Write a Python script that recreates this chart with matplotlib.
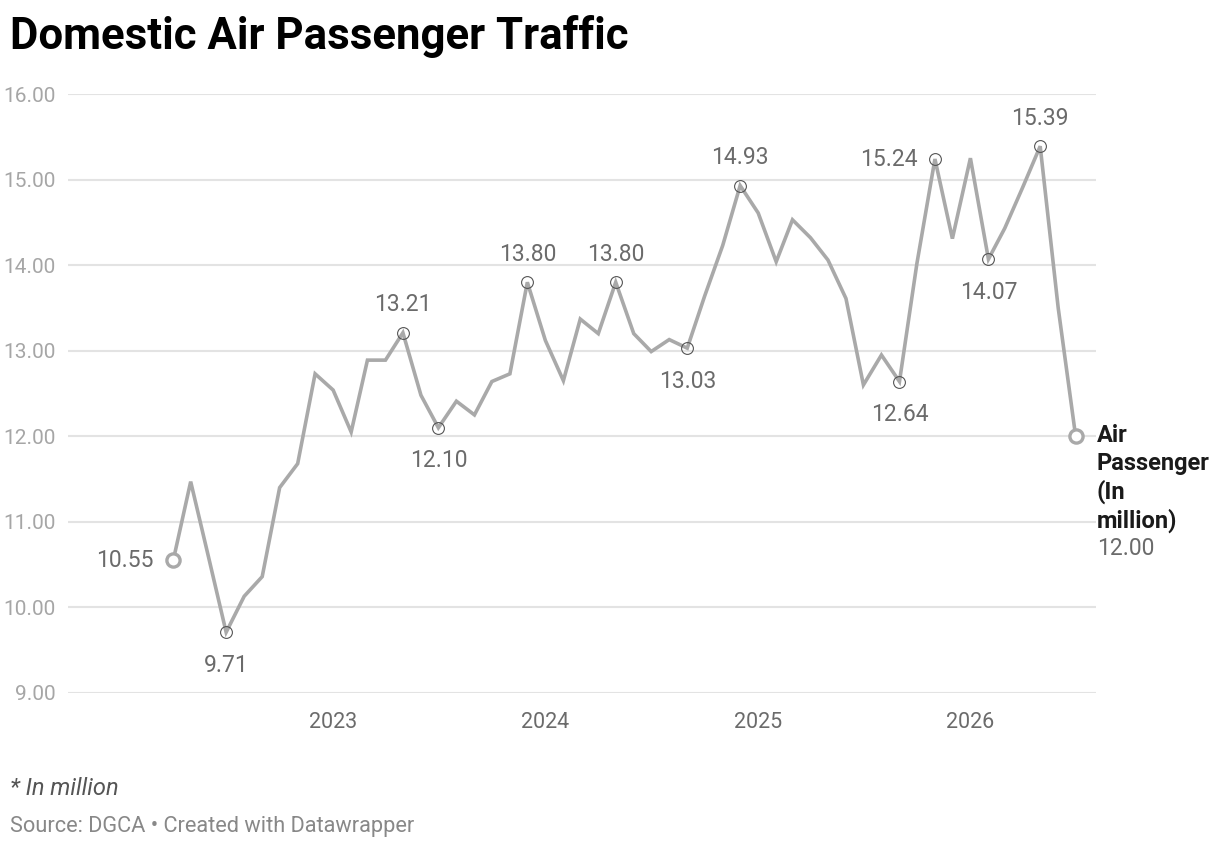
import matplotlib
matplotlib.use("Agg")
import matplotlib.pyplot as plt
import pandas as pd

plt.rcParams['font.family'] = ['Roboto', 'DejaVu Sans']

# monthly domestic air passengers (million), Apr 2022 onwards
months = pd.date_range('2022-04-01', periods=52, freq='MS')
passengers = [
    10.55, 11.47, 10.58, 9.71, 10.13, 10.36, 11.40, 11.68, 12.73, 12.54,
    12.05, 12.89, 12.89, 13.21, 12.48, 12.10, 12.41, 12.25, 12.64, 12.73,
    13.80, 13.12, 12.65, 13.37, 13.20, 13.80, 13.20, 12.99, 13.13, 13.03,
    13.64, 14.23, 14.93, 14.61, 14.04, 14.53, 14.32, 14.06, 13.61, 12.60,
    12.95, 12.64, 14.02, 15.24, 14.31, 15.25, 14.07, 14.43, 14.91, 15.39,
    13.50, 12.00,
]
highlight_idx = [3, 13, 15, 20, 25, 29, 32, 41, 43, 46, 49]
label_side = ['below', 'above', 'below', 'above', 'above', 'below',
              'above', 'below', 'left', 'below', 'above']
y_ticks = [9, 10, 11, 12, 13, 14, 15, 16]
year_ticks = ['2023', '2024', '2025', '2026']

W, H = 1220, 848
fig = plt.figure(figsize=(W / 100, H / 100), dpi=100)
ax = fig.add_axes([68 / W, 1 - 693 / H, (1096 - 68) / W, (693 - 94) / H])

line_col = '#a9a9a9'
ax.plot(months, passengers, color=line_col, lw=2.6, solid_joinstyle='miter', zorder=3)

# small hollow markers on annotated points
hx = [months[i] for i in highlight_idx]
hy = [passengers[i] for i in highlight_idx]
ax.plot(hx, hy, 'o', ms=8.5, mfc='none', mec='#555555', mew=0.8, zorder=4)

# first and last points
ax.plot([months[0], months[-1]], [passengers[0], passengers[-1]], 'o', ms=9.5,
        mfc='white', mec=line_col, mew=2.4, zorder=5)

offsets = {'above': (0, 28, 'center'), 'below': (0, -33, 'center'),
           'left': (-17, 0, 'right')}
for i, side in zip(highlight_idx, label_side):
    dx, dy, ha = offsets[side]
    ax.annotate(f'{passengers[i]:.2f}', (months[i], passengers[i]),
                xytext=(dx, dy), textcoords='offset pixels', ha=ha, va='center',
                fontsize=16.5, color='#6b6b6b', annotation_clip=False)

ax.annotate(f'{passengers[0]:.2f}', (months[0], passengers[0]), xytext=(-20, 0),
            textcoords='offset pixels', ha='right', va='center',
            fontsize=16.5, color='#6b6b6b')

# series label at the end of the line (baseline of last line)
ax.annotate('Air\nPassenger\n(In\nmillion)', (months[-1], passengers[-1]),
            xytext=(21, -91), textcoords='offset pixels', ha='left', va='baseline',
            fontsize=17, fontweight='bold', color='#1a1a1a', linespacing=1.24,
            annotation_clip=False)
ax.annotate(f'{passengers[-1]:.2f}', (months[-1], passengers[-1]),
            xytext=(21, -119), textcoords='offset pixels', ha='left', va='baseline',
            fontsize=16.5, color='#6b6b6b', annotation_clip=False)

ax.set_ylim(9, 16)
ax.set_xlim(pd.Timestamp('2021-10-02'), pd.Timestamp('2026-08-05'))
ax.set_yticks(y_ticks)
ax.set_yticklabels([f'{v:.2f}' for v in y_ticks])
ax.set_xticks([pd.Timestamp(f'{y}-01-01') for y in year_ticks])
ax.set_xticklabels(year_ticks)
ax.grid(axis='y', color='#e3e3e3', lw=1.5)
ax.set_axisbelow(True)
for s in ax.spines.values():
    s.set_visible(False)
ax.tick_params(axis='y', length=0, pad=9, labelsize=15, labelcolor='#a6a6a6')
ax.tick_params(axis='x', length=0, pad=14, labelsize=15.5, labelcolor='#6b6b6b')

fig.text(10 / W, 1 - 49 / H, 'Domestic Air Passenger Traffic', fontsize=31.5,
         fontweight='bold', color='black', va='baseline', ha='left')
fig.text(10 / W, 1 - 795 / H, '* In million', fontsize=17, style='italic',
         color='#555555', va='baseline', ha='left')
fig.text(10 / W, 1 - 832 / H, 'Source: DGCA \u2022 Created with Datawrapper',
         fontsize=15.7, color='#888888', va='baseline', ha='left')

fig.savefig('out.png', dpi=100)
